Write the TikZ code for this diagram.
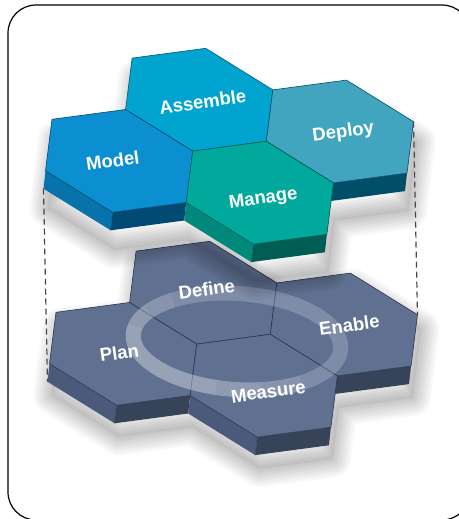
\documentclass[tikz,border=0pt]{standalone}
\usepackage{fontspec}
\setmainfont{Liberation Sans}
\usetikzlibrary{calc}
\definecolor{modelT}{HTML}{0B8FD0}\definecolor{modelS}{HTML}{0873AA}\definecolor{modelB}{HTML}{014A73}
\definecolor{asmT}{HTML}{00A4CF}\definecolor{asmS}{HTML}{0085A8}\definecolor{asmB}{HTML}{005A78}
\definecolor{depT}{HTML}{42A5C0}\definecolor{depS}{HTML}{2D8098}\definecolor{depB}{HTML}{004E68}
\definecolor{manT}{HTML}{00A99B}\definecolor{manS}{HTML}{00897A}\definecolor{manB}{HTML}{005D51}
\definecolor{slT}{HTML}{5F7091}\definecolor{slS}{HTML}{4B5A7A}\definecolor{slB}{HTML}{374359}
\definecolor{edgeC}{HTML}{2A3550}
\newcommand\hexdef[3]{%
  \coordinate (#1) at (#2,#3);
  \coordinate (#1-0) at ($(#1)+(73.6,-9.8)$);
  \coordinate (#1-1) at ($(#1)+(6.5,-51.4)$);
  \coordinate (#1-2) at ($(#1)+(-67.1,-41.6)$);
  \coordinate (#1-3) at ($(#1)+(-73.6,9.8)$);
  \coordinate (#1-4) at ($(#1)+(-6.5,51.4)$);
  \coordinate (#1-5) at ($(#1)+(67.1,41.6)$);
  \coordinate (#1-3b) at ($(#1-3)+(-2,18)$);
  \coordinate (#1-4b) at ($(#1-4)+(-2,18)$);
  \coordinate (#1-5b) at ($(#1-5)+(-2,18)$);
}
\newcommand\hexdraw[5]{%
  \fill[#4] (#1-4) -- (#1-5) -- (#1-5b) -- (#1-4b) -- cycle;
  \fill[#3] (#1-3) -- (#1-4) -- (#1-4b) -- (#1-3b) -- cycle;
  \draw[#5, line width=0.4pt] (#1-4) -- (#1-4b);
  \filldraw[fill=#2, draw=#5, line width=0.6pt, line join=round] (#1-0) -- (#1-1) -- (#1-2) -- (#1-3) -- (#1-4) -- (#1-5) -- cycle;
}
\newcommand\softshade[3]{% outline macro, dx, dy
  \begin{scope}[transform canvas={shift={(#2,#3)}}]
    \fill[black, opacity=0.05] #1;
    \foreach \w in {36,32,...,4} {\draw[black, opacity=0.022, line width=\w pt, line join=round] #1;}
  \end{scope}
}
\begin{document}
\begin{tikzpicture}[x=1pt,y=-1pt,
  lbl/.style={text=white, font=\fontsize{18.5}{20}\selectfont\bfseries, rotate=8, inner sep=0pt},
  frame/.style={draw=black, line width=1.2pt, rounded corners=28pt},
  guide/.style={draw=black!72, line width=1.2pt, dash pattern=on 6pt off 4pt},
  ring/.style={draw=white, line width=15pt, opacity=0.2},
  ringglow/.style={draw=white, line width=15pt, opacity=0.07}]
\useasboundingbox (0,0) rectangle (458,519);
\fill[white] (0,0) rectangle (458,519);
\draw[frame] (8,5) rectangle (470,520);
% top layer
\hexdef{asm}{199.2}{99.7}
\hexdef{model}{119.1}{160.9}
\hexdef{man}{259.8}{192.7}
\hexdef{dep}{339.9}{131.5}
% bottom layer
\hexdef{def}{203.2}{292.7}
\hexdef{pla}{123.1}{353.9}
\hexdef{mea}{263.8}{385.7}
\hexdef{ena}{343.9}{324.5}
\def\botoutline{(pla-3) -- (pla-2) -- (pla-1) -- (def-2) -- (def-1) -- (def-0) -- (ena-1) -- (ena-0) -- (ena-5) -- (ena-5b) -- (ena-4b) -- (mea-5) -- (mea-5b) -- (mea-4b) -- (mea-3b) -- (pla-4b) -- (pla-3b) -- cycle}
\def\topoutline{(model-3) -- (model-2) -- (model-1) -- (asm-2) -- (asm-1) -- (asm-0) -- (dep-1) -- (dep-0) -- (dep-5) -- (dep-5b) -- (dep-4b) -- (man-5) -- (man-5b) -- (man-4b) -- (man-3b) -- (model-4b) -- (model-3b) -- cycle}
% bottom shadow
\softshade{\botoutline}{4}{14}
\hexdraw{def}{slT}{slS}{slB}{edgeC}
\hexdraw{ena}{slT}{slS}{slB}{edgeC}
\hexdraw{pla}{slT}{slS}{slB}{edgeC}
\hexdraw{mea}{slT}{slS}{slB}{edgeC}
\coordinate (rc) at (237,341.5);
\begin{scope}[rotate around={-4:(rc)}]
  \draw[ring] (rc) ellipse [x radius=104, y radius=48];
  \draw[ringglow] ($(rc)+(100:104 and 48)$) arc [start angle=100, end angle=190, x radius=104, y radius=48];
  \draw[ringglow] ($(rc)+(75:104 and 48)$) arc [start angle=75, end angle=210, x radius=104, y radius=48];
  \draw[ringglow] ($(rc)+(50:104 and 48)$) arc [start angle=50, end angle=230, x radius=104, y radius=48];
\end{scope}
\node[lbl] (tdef) at (206.7,289.3) {Define};
\node[lbl] (tena) at (349.3,325) {Enable};
\node[lbl] (tpla) at (119.3,352.7) {Plan};
\node[lbl] (tmea) at (268.3,391.7) {Measure};
% top shadow
\softshade{\topoutline}{4}{20}
\hexdraw{asm}{asmT}{asmS}{asmB}{asmB}
\hexdraw{dep}{depT}{depS}{depB}{depB}
\hexdraw{model}{modelT}{modelS}{modelB}{modelB}
\hexdraw{man}{manT}{manS}{manB}{manB}
\node[lbl] (tasm) at (202.7,101.7) {Assemble};
\node[lbl] (tmodel) at (112.7,160.7) {Model};
\node[lbl] (tdep) at (343.3,132.7) {Deploy};
\node[lbl] (tman) at (263.3,199.3) {Manage};
% guides
\draw[guide] (model-3b) -- (pla-3b);
\draw[guide] (dep-0) -- (ena-0);
\end{tikzpicture}
\end{document}
